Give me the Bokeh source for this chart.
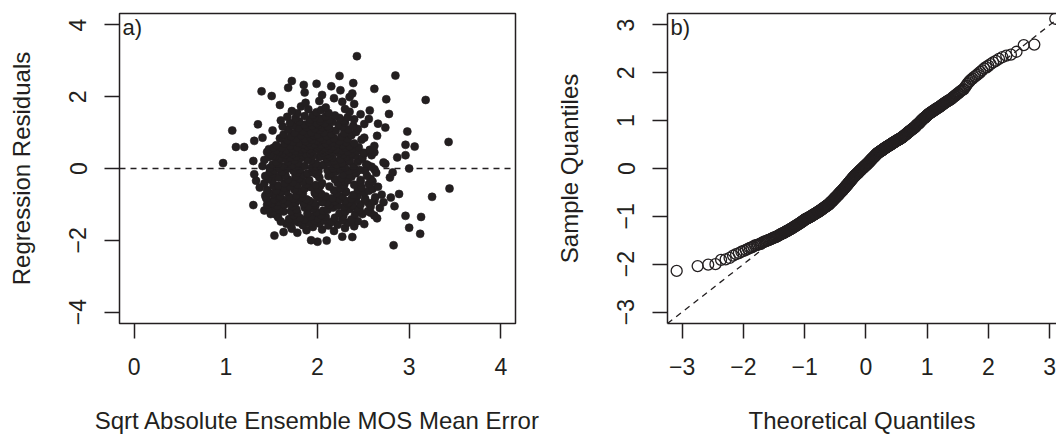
from statistics import NormalDist
from bokeh.plotting import figure
from bokeh.layouts import row
from bokeh.models import FixedTicker, Span, Slope, Label, LinearAxis
from bokeh.embed import file_html
from bokeh.resources import INLINE

# Regression residuals (ascending)
resid = [
 -2.14, -2.04, -2.01, -2.00, -1.91, -1.90, -1.87, -1.82, -1.79, -1.77,
 -1.74, -1.72, -1.70, -1.68, -1.66, -1.65, -1.63, -1.61, -1.60, -1.59,
 -1.58, -1.57, -1.55, -1.54, -1.53, -1.52, -1.51, -1.50, -1.49, -1.48,
 -1.47, -1.46, -1.45, -1.44, -1.44, -1.43, -1.42, -1.41, -1.40, -1.39,
 -1.38, -1.37, -1.36, -1.35, -1.35, -1.34, -1.33, -1.32, -1.31, -1.31,
 -1.30, -1.29, -1.28, -1.27, -1.27, -1.26, -1.25, -1.24, -1.23, -1.22,
 -1.22, -1.21, -1.20, -1.19, -1.19, -1.18, -1.17, -1.16, -1.16, -1.15,
 -1.14, -1.13, -1.12, -1.12, -1.11, -1.10, -1.09, -1.09, -1.08, -1.07,
 -1.06, -1.06, -1.05, -1.05, -1.04, -1.04, -1.03, -1.03, -1.02, -1.01,
 -1.01, -1.00, -1.00, -0.99, -0.99, -0.98, -0.97, -0.97, -0.96, -0.96,
 -0.95, -0.95, -0.94, -0.94, -0.93, -0.92, -0.92, -0.91, -0.91, -0.90,
 -0.90, -0.89, -0.88, -0.88, -0.87, -0.87, -0.86, -0.86, -0.85, -0.84,
 -0.84, -0.83, -0.83, -0.82, -0.81, -0.81, -0.80, -0.80, -0.79, -0.79,
 -0.78, -0.77, -0.77, -0.76, -0.76, -0.75, -0.75, -0.74, -0.73, -0.72,
 -0.71, -0.71, -0.70, -0.69, -0.68, -0.68, -0.67, -0.66, -0.65, -0.65,
 -0.64, -0.63, -0.62, -0.62, -0.61, -0.60, -0.59, -0.59, -0.58, -0.57,
 -0.56, -0.56, -0.55, -0.54, -0.53, -0.53, -0.52, -0.51, -0.50, -0.50,
 -0.49, -0.48, -0.48, -0.47, -0.46, -0.45, -0.45, -0.44, -0.43, -0.42,
 -0.41, -0.41, -0.40, -0.39, -0.38, -0.37, -0.37, -0.36, -0.35, -0.34,
 -0.33, -0.33, -0.32, -0.31, -0.30, -0.29, -0.29, -0.28, -0.27, -0.26,
 -0.25, -0.25, -0.24, -0.23, -0.22, -0.21, -0.21, -0.20, -0.19, -0.18,
 -0.18, -0.17, -0.16, -0.16, -0.15, -0.14, -0.14, -0.13, -0.12, -0.12,
 -0.11, -0.11, -0.10, -0.09, -0.09, -0.08, -0.07, -0.07, -0.06, -0.05,
 -0.05, -0.04, -0.04, -0.03, -0.02, -0.02, -0.01, 0.00, 0.00, 0.01,
 0.01, 0.02, 0.03, 0.03, 0.04, 0.05, 0.05, 0.06, 0.06, 0.07,
 0.07, 0.08, 0.09, 0.09, 0.10, 0.11, 0.11, 0.12, 0.13, 0.13,
 0.14, 0.15, 0.15, 0.16, 0.17, 0.17, 0.18, 0.19, 0.19, 0.20,
 0.21, 0.21, 0.22, 0.23, 0.23, 0.24, 0.25, 0.25, 0.26, 0.27,
 0.27, 0.28, 0.29, 0.29, 0.30, 0.31, 0.31, 0.32, 0.32, 0.33,
 0.33, 0.34, 0.34, 0.35, 0.35, 0.36, 0.36, 0.37, 0.37, 0.37,
 0.38, 0.38, 0.39, 0.39, 0.40, 0.40, 0.41, 0.41, 0.42, 0.42,
 0.42, 0.43, 0.43, 0.44, 0.44, 0.45, 0.45, 0.46, 0.46, 0.46,
 0.47, 0.47, 0.48, 0.48, 0.49, 0.49, 0.50, 0.50, 0.50, 0.51,
 0.51, 0.52, 0.52, 0.53, 0.53, 0.54, 0.54, 0.54, 0.55, 0.55,
 0.56, 0.56, 0.57, 0.57, 0.58, 0.58, 0.58, 0.59, 0.59, 0.60,
 0.60, 0.61, 0.61, 0.62, 0.62, 0.62, 0.63, 0.63, 0.64, 0.64,
 0.65, 0.65, 0.66, 0.66, 0.67, 0.68, 0.68, 0.69, 0.70, 0.70,
 0.71, 0.72, 0.72, 0.73, 0.74, 0.74, 0.75, 0.76, 0.76, 0.77,
 0.78, 0.78, 0.79, 0.80, 0.80, 0.81, 0.82, 0.82, 0.83, 0.84,
 0.84, 0.85, 0.86, 0.86, 0.87, 0.88, 0.89, 0.90, 0.91, 0.92,
 0.93, 0.93, 0.94, 0.95, 0.96, 0.97, 0.98, 0.99, 1.00, 1.01,
 1.02, 1.03, 1.04, 1.05, 1.06, 1.06, 1.07, 1.08, 1.09, 1.10,
 1.11, 1.12, 1.13, 1.14, 1.15, 1.15, 1.16, 1.17, 1.18, 1.19,
 1.19, 1.20, 1.21, 1.22, 1.22, 1.23, 1.24, 1.25, 1.26, 1.26,
 1.27, 1.28, 1.29, 1.30, 1.31, 1.32, 1.33, 1.34, 1.35, 1.36,
 1.37, 1.38, 1.39, 1.40, 1.41, 1.42, 1.43, 1.44, 1.45, 1.46,
 1.48, 1.49, 1.51, 1.52, 1.54, 1.55, 1.57, 1.58, 1.60, 1.62,
 1.63, 1.65, 1.66, 1.70, 1.73, 1.77, 1.80, 1.83, 1.86, 1.88,
 1.91, 1.93, 1.96, 1.99, 2.02, 2.05, 2.09, 2.12, 2.15, 2.18,
 2.22, 2.25, 2.29, 2.33, 2.36, 2.38, 2.44, 2.58, 2.59, 3.13,
]

# Sqrt absolute ensemble MOS mean error paired with each residual
sqrt_err = [
 2.83, 2.00, 2.10, 1.93, 2.38, 2.27, 1.53, 3.12, 1.78, 1.63,
 2.18, 1.88, 2.05, 1.72, 2.30, 3.00, 1.95, 2.40, 1.71, 2.12,
 1.84, 2.22, 2.51, 1.66, 2.02, 1.91, 2.33, 1.79, 2.15, 1.60,
 2.44, 1.97, 2.07, 1.75, 2.27, 1.86, 2.37, 1.69, 2.00, 2.65,
 1.81, 2.19, 1.57, 2.09, 3.13, 1.93, 2.28, 2.96, 2.62, 1.74,
 2.04, 1.55, 2.41, 1.49, 2.49, 1.89, 2.24, 1.78, 2.58, 1.52,
 1.99, 2.30, 1.63, 2.55, 1.71, 2.06, 1.42, 2.46, 1.58, 2.11,
 1.77, 2.35, 1.95, 1.48, 2.43, 2.68, 1.86, 2.17, 1.54, 2.29,
 1.90, 2.58, 1.73, 2.84, 2.22, 1.56, 1.98, 2.38, 1.30, 1.45,
 2.13, 1.64, 2.47, 1.70, 2.33, 1.85, 2.56, 1.50, 2.10, 1.96,
 2.34, 1.76, 2.72, 2.05, 1.57, 2.19, 1.46, 2.62, 1.67, 2.30,
 1.91, 2.52, 1.79, 2.42, 1.62, 1.53, 2.24, 1.88, 2.37, 1.74,
 2.52, 1.44, 2.16, 1.58, 2.80, 2.02, 1.83, 2.63, 3.25, 1.69,
 2.09, 1.59, 2.27, 1.43, 1.99, 2.44, 1.77, 2.39, 2.70, 1.51,
 2.89, 2.04, 1.84, 2.21, 1.47, 1.97, 2.51, 2.31, 1.66, 1.60,
 2.31, 1.80, 2.56, 1.55, 2.18, 1.45, 2.44, 1.75, 2.01, 2.60,
 3.44, 1.86, 2.25, 1.64, 1.37, 2.48, 1.93, 2.66, 1.70, 2.13,
 1.52, 2.03, 1.57, 2.29, 1.98, 1.78, 2.40, 1.88, 2.56, 1.42,
 2.05, 1.64, 2.22, 1.73, 2.47, 2.30, 1.84, 2.60, 1.51, 1.33,
 2.33, 1.91, 2.47, 1.68, 2.19, 2.58, 1.46, 1.80, 2.26, 1.59,
 2.79, 2.02, 1.57, 2.37, 1.76, 2.12, 1.43, 2.54, 1.65, 2.34,
 1.85, 2.28, 1.31, 1.99, 1.51, 2.15, 1.89, 2.42, 1.78, 2.64,
 2.82, 1.95, 1.61, 2.20, 1.48, 2.01, 2.34, 1.74, 2.52, 2.11,
 1.53, 2.46, 1.97, 1.81, 2.24, 2.62, 1.67, 3.00, 2.40, 1.58,
 2.17, 1.48, 1.94, 2.30, 1.76, 2.59, 1.99, 2.39, 1.63, 1.40,
 1.86, 2.03, 2.55, 1.72, 2.21, 1.51, 2.07, 2.53, 1.57, 2.74,
 1.98, 0.97, 2.27, 1.79, 2.72, 2.12, 1.55, 2.44, 1.68, 2.35,
 1.30, 2.18, 1.93, 2.35, 1.75, 1.42, 2.46, 1.89, 2.25, 1.60,
 2.10, 1.66, 2.49, 1.82, 2.16, 2.87, 1.70, 2.02, 1.47, 2.32,
 1.77, 2.13, 1.54, 1.51, 2.04, 1.95, 2.41, 2.96, 1.84, 2.59,
 1.65, 2.08, 1.49, 2.28, 1.73, 2.11, 1.87, 2.37, 1.62, 2.51,
 1.92, 2.23, 1.79, 2.50, 2.06, 2.62, 1.69, 1.45, 2.15, 1.81,
 2.33, 1.58, 2.09, 1.94, 2.43, 1.76, 2.03, 1.55, 2.26, 1.66,
 2.12, 1.98, 2.57, 1.83, 2.20, 1.47, 2.05, 1.91, 2.38, 1.72,
 2.14, 1.86, 2.00, 2.30, 1.61, 2.08, 1.52, 2.45, 1.78, 1.11,
 1.20, 3.06, 2.17, 1.89, 2.02, 2.35, 2.62, 1.70, 2.11, 1.93,
 2.27, 1.55, 2.96, 2.04, 1.84, 2.21, 1.97, 1.64, 2.40, 2.09,
 1.80, 2.16, 1.90, 2.31, 3.43, 1.73, 2.01, 1.87, 2.24, 1.31,
 1.99, 2.12, 1.67, 2.48, 1.94, 2.06, 1.77, 2.33, 1.86, 2.18,
 1.59, 2.03, 1.40, 2.51, 1.92, 2.26, 1.71, 2.10, 2.65, 1.96,
 1.82, 2.37, 2.00, 1.63, 2.15, 1.89, 2.29, 1.75, 2.07, 1.93,
 2.42, 2.98, 1.84, 2.20, 1.07, 1.51, 2.02, 1.68, 2.34, 2.44,
 1.97, 2.13, 1.79, 2.74, 2.05, 1.88, 2.27, 1.62, 2.11, 1.94,
 2.39, 1.73, 2.01, 2.23, 1.86, 1.35, 2.51, 2.66, 1.99, 2.08,
 1.70, 2.30, 1.91, 2.16, 1.80, 2.03, 2.29, 1.60, 2.13, 1.92,
 2.40, 2.56, 2.03, 1.76, 2.24, 1.97, 2.33, 1.67, 2.09, 1.86,
 2.19, 1.95, 2.47, 2.78, 1.78, 2.12, 1.99, 2.35, 1.72, 2.57,
 2.04, 1.90, 2.30, 2.09, 1.82, 1.59, 2.40, 1.87, 2.27, 2.02,
 3.18, 2.75, 2.18, 2.35, 1.50, 2.05, 2.38, 1.86, 1.39, 2.25,
 2.62, 1.68, 2.15, 1.85, 1.99, 2.39, 1.72, 2.24, 2.85, 2.43,
]

a_xticks = [0, 1, 2, 3, 4]
a_yticks = [-4, -2, 0, 2, 4]
b_ticks = [-3, -2, -1, 0, 1, 2, 3]

# Normal Q-Q: sorted residuals against standard normal quantiles
n = len(resid)
sample_q = sorted(resid)
theor_q = [NormalDist().inv_cdf((k + 0.5) / n) for k in range(n)]

INK = "#231f20"
FONT = "Liberation Sans"


def minus(v):
    return ("\u2212" + str(abs(v))) if v < 0 else str(v)


def style(p, xt, yt, xlab, ylab):
    p.grid.visible = False
    p.background_fill_color = "white"
    p.border_fill_color = "white"
    p.xaxis.ticker = FixedTicker(ticks=xt)
    p.yaxis.ticker = FixedTicker(ticks=yt)
    p.xaxis.major_label_overrides = {t: minus(t) for t in xt}
    p.yaxis.major_label_overrides = {t: minus(t) for t in yt}
    p.xaxis.axis_label = xlab
    p.yaxis.axis_label = ylab
    for ax in (p.xaxis[0], p.yaxis[0]):
        ax.major_tick_out = 15
        ax.major_tick_in = 0
        ax.minor_tick_line_color = None
        ax.major_tick_line_color = INK
        ax.major_tick_line_width = 1.5
        ax.major_label_text_font = FONT
        ax.major_label_text_font_size = "23px"
        ax.major_label_text_color = INK
        ax.axis_label_text_font = FONT
        ax.axis_label_text_font_size = "24px"
        ax.axis_label_text_font_style = "normal"
        ax.axis_label_text_color = INK
    p.yaxis.major_label_orientation = "vertical"
    p.xaxis.major_label_standoff = 19
    p.xaxis.axis_label_standoff = 29
    p.yaxis.major_label_standoff = 18
    p.yaxis.axis_label_standoff = 32


# ---- panel a) ----
p1 = figure(width=540, height=436, x_range=(-0.16, 4.16), y_range=(-4.32, 4.32),
            output_backend="svg", toolbar_location=None,
            min_border_left=119, min_border_right=25, min_border_top=13, min_border_bottom=113)
style(p1, a_xticks, a_yticks, "Sqrt Absolute Ensemble MOS Mean Error", "Regression Residuals")
p1.outline_line_color = INK
p1.outline_line_width = 1.5
p1.outline_line_alpha = 1.0
p1.xaxis.axis_line_color = None
p1.yaxis.axis_line_color = None
p1.add_layout(Span(location=0, dimension="width", line_color=INK, line_width=1.3, line_dash="6 5"))
p1.scatter(sqrt_err, resid, marker="circle", size=8, fill_color=INK, line_color=INK, line_width=0.6)
p1.add_layout(Label(x=p1.x_range.start, y=p1.y_range.end, text="a)", x_offset=3, y_offset=-1,
                    text_baseline="top", text_font=FONT, text_font_size="22px", text_color=INK))

# ---- panel b) ----
p2 = figure(width=516, height=436, x_range=(-3.24, 3.11), y_range=(-3.24, 3.24),
            output_backend="svg", toolbar_location=None,
            min_border_left=127, min_border_right=0, min_border_top=13, min_border_bottom=113)
style(p2, b_ticks, b_ticks, "Theoretical Quantiles", "Sample Quantiles")
p2.outline_line_color = None
for ax in (p2.xaxis[0], p2.yaxis[0]):
    ax.axis_line_color = INK
    ax.axis_line_width = 1.5
top = LinearAxis(ticker=FixedTicker(ticks=[]), axis_line_color=INK, axis_line_width=1.5,
                 major_tick_line_color=None, minor_tick_line_color=None,
                 major_label_text_font_size="0px")
p2.add_layout(top, "above")
p2.scatter(theor_q, sample_q, marker="circle", size=11, fill_color=None, line_color=INK, line_width=1.3)
p2.add_layout(Slope(gradient=1, y_intercept=0, line_color=INK, line_width=1.3, line_dash="6 5"))
p2.add_layout(Label(x=p2.x_range.start, y=p2.y_range.end, text="b)", x_offset=3, y_offset=-1,
                    text_baseline="top", text_font=FONT, text_font_size="22px", text_color=INK))

layout = row(p1, p2)
open("out.html", "w").write(file_html(layout, INLINE))
